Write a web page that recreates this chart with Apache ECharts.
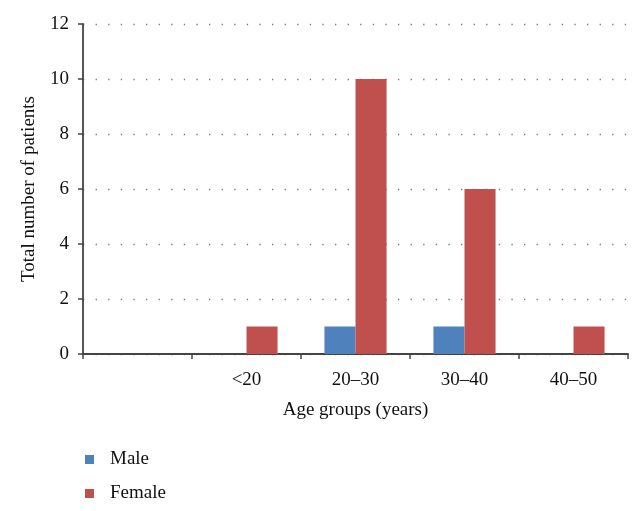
<!DOCTYPE html>
<html>
<head>
<meta charset="utf-8">
<script src="https://cdn.jsdelivr.net/npm/echarts@6/dist/echarts.min.js"></script>
<style>
  html, body { margin: 0; padding: 0; background: #fff; }
  #chart { width: 642px; height: 511px; }
</style>
</head>
<body>
<div id="chart"></div>
<script>
  // age groups (first slot is empty in the original figure)
  var categories = ['', '<20', '20–30', '30–40', '40–50']
  var maleData = [null, 0, 1, 1, 0]
  var femaleData = [null, 1, 10, 6, 1]

  var font = 'Liberation Serif'
  var axisColor = '#444'

  var chart = echarts.init(document.getElementById('chart'))
  chart.setOption({
    animation: false,
    textStyle: { fontFamily: font },
    grid: {
      left: 83,
      right: 14,
      top: 24,
      bottom: 157,
      containLabel: false
    },
    legend: {
      orient: 'vertical',
      left: 80,
      top: 445,
      icon: 'rect',
      itemWidth: 9,
      itemHeight: 9,
      itemGap: 15,
      data: ['Male', 'Female'],
      textStyle: { fontFamily: font, fontSize: 19, color: '#111', padding: [0, 0, 0, 11] }
    },
    xAxis: {
      type: 'category',
      data: categories,
      name: 'Age groups (years)',
      nameLocation: 'middle',
      nameGap: 47,
      nameTextStyle: { fontFamily: font, fontSize: 19, color: '#111' },
      axisLine: { lineStyle: { color: axisColor, width: 1.8 } },
      axisTick: { show: true, length: 5, lineStyle: { color: axisColor, width: 1.5 } },
      axisLabel: { fontFamily: font, fontSize: 19, color: '#111', margin: 17 }
    },
    yAxis: {
      type: 'value',
      min: 0,
      max: 12,
      interval: 2,
      name: 'Total number of patients',
      nameLocation: 'middle',
      nameGap: 44,
      nameTextStyle: { fontFamily: font, fontSize: 19, color: '#111' },
      axisLine: { show: true, lineStyle: { color: axisColor, width: 1.8 } },
      axisTick: { show: true, length: 5, lineStyle: { color: axisColor, width: 1.5 } },
      axisLabel: { fontFamily: font, fontSize: 19, color: '#111', margin: 14 },
      splitLine: {
        show: true,
        lineStyle: { color: '#777', width: 1.3, type: [1.3, 11.3] }
      }
    },
    series: [
      {
        name: 'Male',
        type: 'bar',
        data: maleData,
        barGap: '0%',
        barCategoryGap: '43%',
        itemStyle: { color: '#4F81BD' }
      },
      {
        name: 'Female',
        type: 'bar',
        data: femaleData,
        barGap: '0%',
        barCategoryGap: '43%',
        itemStyle: { color: '#C0504D' }
      }
    ]
  })
</script>
</body>
</html>
